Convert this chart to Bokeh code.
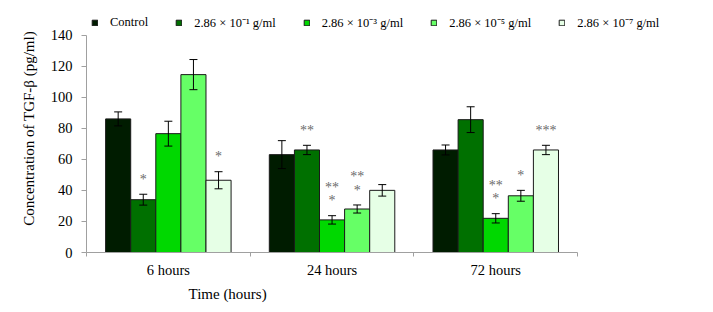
import numpy as np
from bokeh.plotting import figure
from bokeh.models import (ColumnDataSource, Whisker, TeeHead, Legend, LegendItem,
                          FixedTicker, Range1d, Title)
from bokeh.embed import file_html
from bokeh.resources import INLINE

# ---- data ----
times = ["6 hours", "24 hours", "72 hours"]
series = ["Control", "2.86 × 10\u207b\u00b9 g/ml", "2.86 × 10\u207b\u00b3 g/ml",
          "2.86 × 10\u207b\u2075 g/ml", "2.86 × 10\u207b\u2077 g/ml"]
control = [86.0, 63.0, 66.0]
control_err = [4.5, 9.0, 3.2]
c1 = [34.0, 66.0, 85.5]
c1_err = [3.5, 3.0, 8.3]
c3 = [76.5, 21.0, 22.0]
c3_err = [8.0, 2.7, 3.0]
c5 = [114.5, 28.0, 36.5]
c5_err = [9.7, 2.6, 3.5]
c7 = [46.5, 40.0, 66.0]
c7_err = [5.5, 3.7, 3.0]
# significance marks (lower row, upper row) per series and time
stars_low = [["", "", ""], ["*", "**", ""], ["", "*", "*"], ["", "*", "*"], ["*", "", "***"]]
stars_up = [["", "", ""], ["", "", ""], ["", "**", "**"], ["", "**", ""], ["", "", ""]]
y_ticks = [0, 20, 40, 60, 80, 100, 120, 140]
x_title = "Time (hours)"
y_title = "Concentration of TGF-\u03b2  (pg/ml)"

values = [control, c1, c3, c5, c7]
errors = [control_err, c1_err, c3_err, c5_err, c7_err]
colors = ["#001c00", "#007000", "#00d800", "#66ff66", "#e6ffe6"]

serif = "Liberation Serif"
BW = 0.1533
# plot area: 163.7 px per time group, 217.5 px for 0..140; the frame is widened
# beyond the axes so that the legend row (above the axis top) is not clipped
FRAME_W, FRAME_H = 627, 252
X_END = FRAME_W / 163.7
Y_END = 140 * FRAME_H / 217.5

p = figure(width=713, height=312, output_backend="svg", toolbar_location=None,
           x_range=Range1d(0, X_END), y_range=Range1d(0, Y_END),
           min_border_left=86, min_border_right=0, min_border_top=0,
           min_border_bottom=60)
p.outline_line_color = None
p.xgrid.visible = False
p.ygrid.visible = False
p.background_fill_color = "white"

items = []
for i, (vals, errs, col, name) in enumerate(zip(values, errors, colors, series)):
    xs = np.arange(3) + 0.5 + (i - 2) * BW
    v = np.array(vals)
    e = np.array(errs)
    src = ColumnDataSource(dict(x=xs, top=v, upper=v + e, lower=v - e,
                                ylow=v + e + 9.5, yup=v + e + 18.0,
                                slow=stars_low[i], sup=stars_up[i]))
    r = p.vbar(x="x", top="top", bottom=0, width=BW, source=src,
               fill_color=col, line_color="#1a1a1a", line_width=1)
    items.append(LegendItem(label=name, renderers=[r]))
    w = Whisker(source=src, base="x", upper="upper", lower="lower",
                line_color="black", line_width=1, level="overlay",
                upper_head=TeeHead(size=8, line_color="black", line_width=1),
                lower_head=TeeHead(size=8, line_color="black", line_width=1))
    p.add_layout(w)
    for col_name, ycol in (("slow", "ylow"), ("sup", "yup")):
        p.text(x="x", y=ycol, text=col_name, source=src, text_align="center",
               text_baseline="alphabetic", text_font={"value": serif},
               text_font_size="14px", text_color="#6a6a6a")

legend = Legend(items=items, orientation="horizontal", location=(5, 221),
                glyph_width=7, glyph_height=7, label_standoff=12, spacing=27,
                padding=0, margin=0, border_line_color=None,
                background_fill_alpha=0, label_height=14,
                label_text_font=serif, label_text_font_size="12.5px",
                label_text_color="black")
p.add_layout(legend, "center")

axis_gray = "#a0a0a0"
# x axis
p.xaxis.bounds = (0, 3)
p.xaxis.ticker = FixedTicker(ticks=[0.5, 1.5, 2.5], minor_ticks=[0, 1, 2, 3])
p.xaxis.major_label_overrides = {0.5: times[0], 1.5: times[1], 2.5: times[2]}
p.xaxis.major_tick_out = 0
p.xaxis.major_tick_in = 0
p.xaxis.minor_tick_out = 4
p.xaxis.minor_tick_in = 0
p.xaxis.minor_tick_line_color = axis_gray
p.xaxis.axis_line_color = axis_gray
p.xaxis.major_label_standoff = 5

# x axis title, centred under the three groups (not under the widened frame)
p.add_layout(Title(text=x_title, align="left", offset=102, standoff=7,
                   text_font=serif, text_font_size="15px",
                   text_font_style="normal", text_color="black"), "below")

# y axis
p.yaxis.bounds = (0, 140)
p.yaxis.ticker = FixedTicker(ticks=y_ticks)
p.yaxis.minor_tick_line_color = None
p.yaxis.major_tick_out = 5
p.yaxis.major_tick_in = 0
p.yaxis.major_tick_line_color = axis_gray
p.yaxis.axis_line_color = axis_gray
p.yaxis.major_label_standoff = 9
p.yaxis.axis_label = y_title
p.yaxis.axis_label_standoff = 11

for ax in (p.xaxis, p.yaxis):
    ax.major_label_text_font = serif
    ax.major_label_text_font_size = "14.5px"
    ax.major_label_text_color = "black"
    ax.axis_label_text_font = serif
    ax.axis_label_text_font_size = "15px"
    ax.axis_label_text_font_style = "normal"
    ax.axis_label_text_color = "black"

open("out.html", "w").write(file_html(p, INLINE))
